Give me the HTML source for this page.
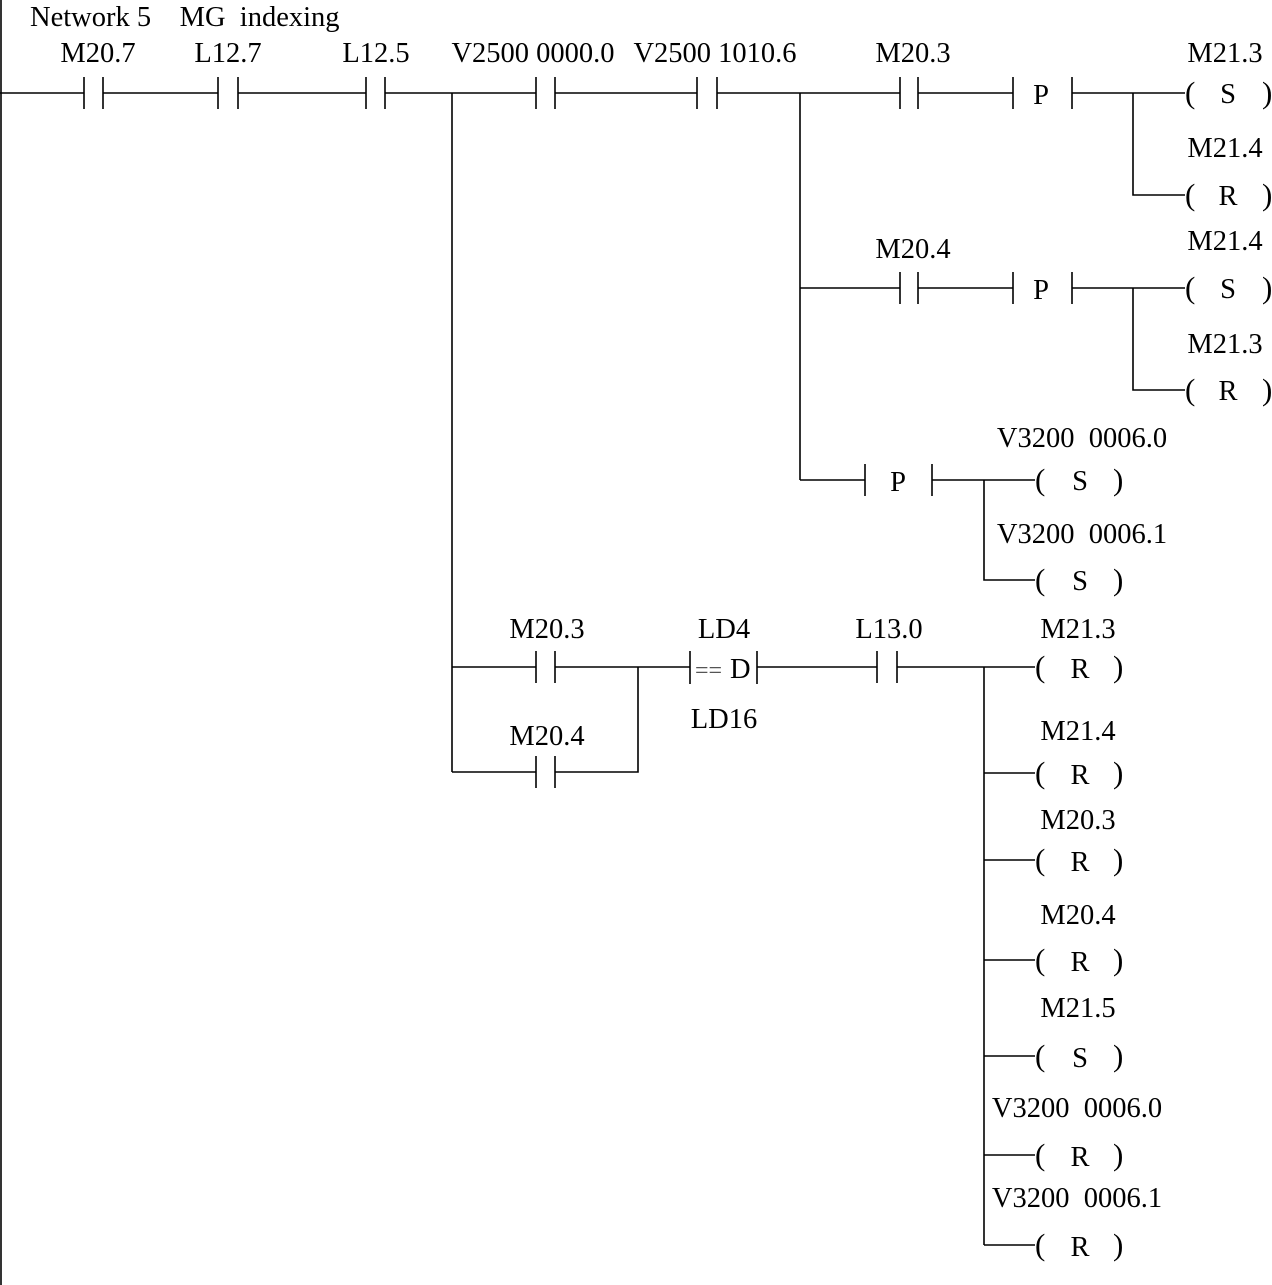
<!DOCTYPE html>
<html><head><meta charset="utf-8"><style>
html,body{margin:0;padding:0;background:#fff;}
svg{display:block;}
text{font-family:"Liberation Serif",serif;font-size:28.5px;fill:#000;white-space:pre;}
.c{text-anchor:middle;}
.p{font-size:31px;}
</style></head><body>
<svg width="1272" height="1285" viewBox="0 0 1272 1285" xmlns="http://www.w3.org/2000/svg" xml:space="preserve">
<g stroke="#000" stroke-width="1.6" fill="none">
<line x1="1" y1="0" x2="1" y2="1285"/>
<polyline points="0,93 84,93"/><line x1="84" y1="77" x2="84" y2="109"/><line x1="103" y1="77" x2="103" y2="109"/>
<polyline points="103,93 218,93"/><line x1="218" y1="77" x2="218" y2="109"/><line x1="238" y1="77" x2="238" y2="109"/>
<polyline points="238,93 366,93"/><line x1="366" y1="77" x2="366" y2="109"/><line x1="385" y1="77" x2="385" y2="109"/>
<polyline points="385,93 536,93"/><line x1="536" y1="77" x2="536" y2="109"/><line x1="555" y1="77" x2="555" y2="109"/>
<polyline points="555,93 697,93"/><line x1="697" y1="77" x2="697" y2="109"/><line x1="717" y1="77" x2="717" y2="109"/>
<polyline points="717,93 900,93"/><line x1="900" y1="77" x2="900" y2="109"/><line x1="918" y1="77" x2="918" y2="109"/>
<polyline points="918,93 1013,93"/><line x1="1013" y1="77" x2="1013" y2="109"/><line x1="1072" y1="77" x2="1072" y2="109"/>
<polyline points="1072,93 1185,93"/>
<polyline points="1133,93 1133,195 1185,195"/>
<line x1="800" y1="93" x2="800" y2="480"/>
<polyline points="800,288 900,288"/><line x1="900" y1="272" x2="900" y2="304"/><line x1="918" y1="272" x2="918" y2="304"/>
<polyline points="918,288 1013,288"/><line x1="1013" y1="272" x2="1013" y2="304"/><line x1="1072" y1="272" x2="1072" y2="304"/>
<polyline points="1072,288 1185,288"/>
<polyline points="1133,288 1133,390 1185,390"/>
<polyline points="800,480 865,480"/><line x1="865" y1="464" x2="865" y2="496"/><line x1="932" y1="464" x2="932" y2="496"/>
<polyline points="932,480 1035,480"/>
<polyline points="984,480 984,580 1035,580"/>
<line x1="452" y1="93" x2="452" y2="772"/>
<polyline points="452,667 536,667"/><line x1="536" y1="651" x2="536" y2="683"/><line x1="555" y1="651" x2="555" y2="683"/>
<polyline points="555,667 690,667"/>
<polyline points="452,772 536,772"/><line x1="536" y1="756" x2="536" y2="788"/><line x1="555" y1="756" x2="555" y2="788"/>
<polyline points="555,772 638,772 638,667"/>
<line x1="690" y1="651" x2="690" y2="684"/><line x1="757" y1="651" x2="757" y2="684"/>
<polyline points="757,667 877,667"/><line x1="877" y1="651" x2="877" y2="683"/><line x1="897" y1="651" x2="897" y2="683"/>
<polyline points="897,667 1035,667"/>
<line x1="984" y1="667" x2="984" y2="1245"/>
<line x1="984" y1="773" x2="1035" y2="773"/>
<line x1="984" y1="860" x2="1035" y2="860"/>
<line x1="984" y1="960" x2="1035" y2="960"/>
<line x1="984" y1="1056" x2="1035" y2="1056"/>
<line x1="984" y1="1155" x2="1035" y2="1155"/>
<line x1="984" y1="1245" x2="1035" y2="1245"/>
</g>
<text x="30" y="26">Network 5    MG  indexing</text>
<text class="c" x="98" y="62">M20.7</text>
<text class="c" x="228" y="62">L12.7</text>
<text class="c" x="376" y="62">L12.5</text>
<text class="c" x="533" y="62">V2500 0000.0</text>
<text class="c" x="715" y="62">V2500 1010.6</text>
<text class="c" x="913" y="62">M20.3</text>
<text class="c" x="913" y="258">M20.4</text>
<text class="c" x="1041" y="104">P</text>
<text class="c" x="1041" y="299">P</text>
<text class="c" x="898" y="491">P</text>
<text class="c" x="1225" y="62">M21.3</text>
<text class="c" x="1225" y="157">M21.4</text>
<text class="c" x="1225" y="250">M21.4</text>
<text class="c" x="1225" y="353">M21.3</text>
<text class="c" x="1082" y="447">V3200  0006.0</text>
<text class="c" x="1082" y="543">V3200  0006.1</text>
<text class="c" x="547" y="638">M20.3</text>
<text class="c" x="547" y="745">M20.4</text>
<text class="c" x="724" y="638">LD4</text>
<text class="c" x="724" y="728">LD16</text>
<text x="695" y="678" style="font-size:24px;fill:#555">==</text><text x="730" y="678">D</text>
<text class="c" x="889" y="638">L13.0</text>
<text class="c" x="1078" y="638">M21.3</text>
<text class="c" x="1078" y="740">M21.4</text>
<text class="c" x="1078" y="829">M20.3</text>
<text class="c" x="1078" y="924">M20.4</text>
<text class="c" x="1078" y="1017">M21.5</text>
<text class="c" x="1077" y="1117">V3200  0006.0</text>
<text class="c" x="1077" y="1207">V3200  0006.1</text>
<g>
<text class="p" x="1185" y="103">(</text><text class="c" x="1228" y="103">S</text><text class="p" x="1262" y="103">)</text>
<text class="p" x="1185" y="205">(</text><text class="c" x="1228" y="205">R</text><text class="p" x="1262" y="205">)</text>
<text class="p" x="1185" y="298">(</text><text class="c" x="1228" y="298">S</text><text class="p" x="1262" y="298">)</text>
<text class="p" x="1185" y="400">(</text><text class="c" x="1228" y="400">R</text><text class="p" x="1262" y="400">)</text>
<text class="p" x="1035" y="490">(</text><text class="c" x="1080" y="490">S</text><text class="p" x="1113" y="490">)</text>
<text class="p" x="1035" y="590">(</text><text class="c" x="1080" y="590">S</text><text class="p" x="1113" y="590">)</text>
<text class="p" x="1035" y="677">(</text><text class="c" x="1080" y="678">R</text><text class="p" x="1113" y="677">)</text>
<text class="p" x="1035" y="783">(</text><text class="c" x="1080" y="784">R</text><text class="p" x="1113" y="783">)</text>
<text class="p" x="1035" y="870">(</text><text class="c" x="1080" y="871">R</text><text class="p" x="1113" y="870">)</text>
<text class="p" x="1035" y="970">(</text><text class="c" x="1080" y="971">R</text><text class="p" x="1113" y="970">)</text>
<text class="p" x="1035" y="1066">(</text><text class="c" x="1080" y="1067">S</text><text class="p" x="1113" y="1066">)</text>
<text class="p" x="1035" y="1165">(</text><text class="c" x="1080" y="1166">R</text><text class="p" x="1113" y="1165">)</text>
<text class="p" x="1035" y="1255">(</text><text class="c" x="1080" y="1256">R</text><text class="p" x="1113" y="1255">)</text>
</g>
</svg>
</body></html>
